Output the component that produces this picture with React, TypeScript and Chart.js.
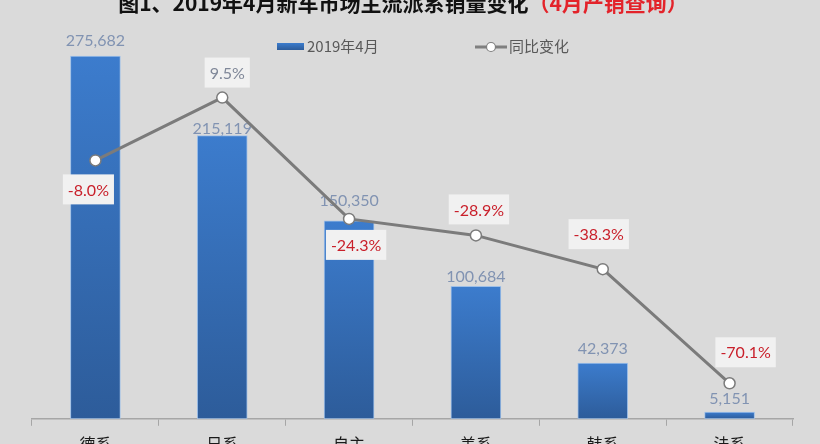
import React, { useEffect, useRef } from "react";
import { Chart, registerables } from "chart.js";

Chart.register(...registerables);

const CATEGORIES = ["德系", "日系", "自主", "美系", "韩系", "法系"];
const SALES = [275682, 215119, 150350, 100684, 42373, 5151];
const YOY = [-8.0, 9.5, -24.3, -28.9, -38.3, -70.1];
const SERIES_NAMES = ["2019年4月", "同比变化"];
const TITLE_BLACK = "图1、2019年4月新车市场主流派系销量变化";
const TITLE_RED = "（4月产销查询）";

const BG = "#dadada";
const CJK = '"Noto Sans CJK SC", "Noto Sans", sans-serif';
const NUM = 'Lato, "Noto Sans", sans-serif';

// label placement tweaks (style, not data)
const BAR_LABEL_GAP = [15, 7, 20, 9, 14, 13];
const LINE_LABEL_OFFSET: [number, number][] = [
  [-7, 29],
  [5, -25],
  [7, 26],
  [3, -26],
  [-4, -35],
  [16, -31],
];

function barGradient(ctx: CanvasRenderingContext2D, top: number, bottom: number) {
  const g = ctx.createLinearGradient(0, top, 0, bottom);
  g.addColorStop(0, "#3c7ccd");
  g.addColorStop(1, "#2d5c9a");
  return g;
}

const decorPlugin = {
  id: "decor",
  beforeDraw(chart: any) {
    const ctx = chart.ctx as CanvasRenderingContext2D;
    ctx.save();
    ctx.fillStyle = BG;
    ctx.fillRect(0, 0, chart.width, chart.height);
    ctx.restore();
  },
  afterDraw(chart: any) {
    const ctx = chart.ctx as CanvasRenderingContext2D;
    ctx.save();
    // title
    ctx.font = `bold 21px ${CJK}`;
    ctx.textBaseline = "middle";
    ctx.textAlign = "left";
    const wB = ctx.measureText(TITLE_BLACK).width;
    const wR = ctx.measureText(TITLE_RED).width;
    const x0 = 403 - (wB + wR) / 2;
    ctx.fillStyle = "#111111";
    ctx.fillText(TITLE_BLACK, x0, 3);
    ctx.fillStyle = "#e3232a";
    ctx.fillText(TITLE_RED, x0 + wB, 3);

    // legend
    ctx.fillStyle = barGradient(ctx, 43, 50);
    ctx.fillRect(277, 43, 27, 7);
    ctx.font = `15px ${CJK}`;
    ctx.fillStyle = "#595959";
    ctx.fillText(SERIES_NAMES[0], 307, 46);

    ctx.strokeStyle = "#7f7f7f";
    ctx.lineWidth = 3;
    ctx.beginPath();
    ctx.moveTo(475, 47);
    ctx.lineTo(507, 47);
    ctx.stroke();
    ctx.beginPath();
    ctx.arc(491, 47, 4.5, 0, Math.PI * 2);
    ctx.fillStyle = "#ffffff";
    ctx.fill();
    ctx.lineWidth = 1.2;
    ctx.stroke();
    ctx.fillStyle = "#595959";
    ctx.fillText(SERIES_NAMES[1], 509, 46);
    ctx.restore();
  },
  afterDatasetDraw(chart: any, args: any) {
    if (args.index !== 0) return;
    const ctx = chart.ctx as CanvasRenderingContext2D;
    const meta = chart.getDatasetMeta(0);
    ctx.save();
    ctx.font = `16px ${NUM}`;
    ctx.fillStyle = "#8193b2";
    ctx.textAlign = "center";
    ctx.textBaseline = "middle";
    meta.data.forEach((el: any, i: number) => {
      const p = el.getProps(["x", "y"], true);
      ctx.fillText(SALES[i].toLocaleString("en-US"), p.x, p.y - BAR_LABEL_GAP[i]);
    });
    ctx.restore();
  },
  afterDatasetsDraw(chart: any) {
    const ctx = chart.ctx as CanvasRenderingContext2D;
    const meta = chart.getDatasetMeta(1);
    ctx.save();
    ctx.font = `16px ${NUM}`;
    ctx.textAlign = "center";
    ctx.textBaseline = "middle";
    meta.data.forEach((el: any, i: number) => {
      const p = el.getProps(["x", "y"], true);
      const txt = YOY[i].toFixed(1) + "%";
      const w = ctx.measureText(txt).width + 10;
      const h = 30;
      const cx = p.x + LINE_LABEL_OFFSET[i][0];
      const cy = p.y + LINE_LABEL_OFFSET[i][1];
      ctx.fillStyle = "#f1f1f1";
      ctx.fillRect(cx - w / 2, cy - h / 2, w, h);
      ctx.fillStyle = YOY[i] < 0 ? "#c9202b" : "#7f8798";
      ctx.fillText(txt, cx, cy + 1);
    });
    ctx.restore();
  },
};

export default function App() {
  const ref = useRef<HTMLCanvasElement>(null);
  useEffect(() => {
    document.body.style.margin = "0";
    document.body.style.background = BG;
    const canvas = ref.current!;
    const chart = new Chart(canvas, {
      type: "bar",
      data: {
        labels: CATEGORIES,
        datasets: [
          {
            type: "bar",
            label: SERIES_NAMES[0],
            data: SALES,
            yAxisID: "y",
            order: 1,
            barThickness: 50,
            borderWidth: 1,
            borderColor: "#9fc0e8",
            borderSkipped: false,
            backgroundColor: (c: any) => {
              const chart = c.chart;
              if (c.type !== "data" || !chart.chartArea) return "#3a78c8";
              const ys = chart.scales.y;
              const top = ys.getPixelForValue(c.raw);
              const bottom = ys.getPixelForValue(0);
              if (!isFinite(top) || !isFinite(bottom) || bottom - top < 1) return "#2f62a6";
              return barGradient(chart.ctx, top, bottom);
            },
          } as any,
          {
            type: "line",
            label: SERIES_NAMES[1],
            data: YOY,
            yAxisID: "y1",
            order: 0,
            borderColor: "#7b7b7b",
            borderWidth: 3,
            pointRadius: 5.5,
            pointBackgroundColor: "#ffffff",
            pointBorderColor: "#7b7b7b",
            pointBorderWidth: 1.5,
            tension: 0,
          } as any,
        ],
      },
      options: {
        animation: false,
        responsive: false,
        maintainAspectRatio: false,
        layout: { padding: { left: 32, right: 27, top: 24, bottom: 0 } },
        plugins: {
          legend: { display: false },
          title: { display: false },
          tooltip: { enabled: false },
        },
        scales: {
          x: {
            offset: true,
            grid: {
              offset: true,
              drawOnChartArea: false,
              drawTicks: true,
              tickLength: 7,
              color: "#a6a6a6",
            },
            border: { color: "#a6a6a6", width: 1.5 },
            ticks: {
              color: "#1a1a1a",
              font: { family: CJK, size: 16 },
              padding: 9,
            },
          },
          y: { display: false, min: 0, max: 300000 },
          y1: { display: false, min: -80, max: 30, position: "right" },
        },
      },
      plugins: [decorPlugin],
    });
    return () => chart.destroy();
  }, []);
  return (
    <div
      style={{
        position: "fixed",
        left: 0,
        top: 0,
        width: 820,
        height: 444,
        overflow: "hidden",
        background: BG,
      }}
    >
      <canvas ref={ref} width={820} height={463} style={{ display: "block", width: 820, height: 463 }} />
    </div>
  );
}
